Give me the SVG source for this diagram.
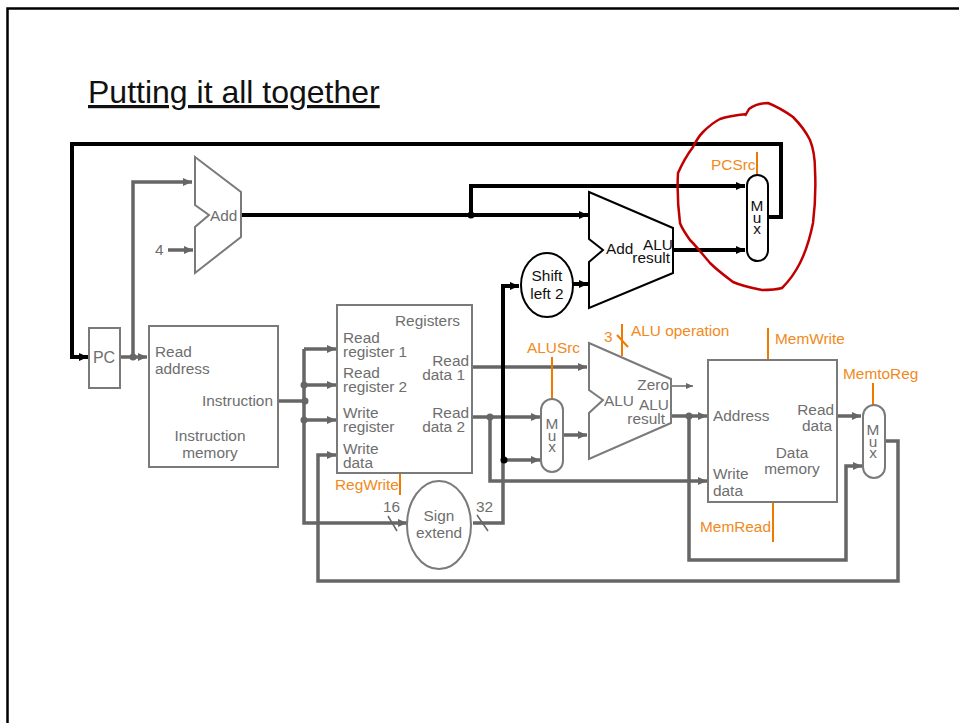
<svg xmlns="http://www.w3.org/2000/svg" width="959" height="723" viewBox="0 0 959 723">
<defs>
<marker id="ag" markerUnits="userSpaceOnUse" markerWidth="10" markerHeight="10" refX="9" refY="4" orient="auto"><path d="M0 0L9 4L0 8z" fill="#666"/></marker>
<marker id="ab" markerUnits="userSpaceOnUse" markerWidth="10" markerHeight="10" refX="9" refY="4" orient="auto"><path d="M0 0L9 4L0 8z" fill="#000"/></marker>
<marker id="as" markerUnits="userSpaceOnUse" markerWidth="8" markerHeight="8" refX="7" refY="3" orient="auto"><path d="M0 0L7 3L0 6z" fill="#666"/></marker>
</defs>
<style>
text{font-family:"Liberation Sans",Arial,sans-serif;font-size:15.400px;fill:#6e6e6e}
.k{fill:#111}.o{fill:#f08a1c}.m{text-anchor:middle}.e{text-anchor:end}
.s{fill:#fff;stroke:#7a7a7a;stroke-width:2}.sk{fill:#fff;stroke:#000;stroke-width:2}
.g{fill:none;stroke:#666;stroke-width:3.500}.gt{fill:none;stroke:#666;stroke-width:1.500}
.b{fill:none;stroke:#000;stroke-width:4}
.c{fill:none;stroke:#f07a00;stroke-width:2}
</style>
<rect width="959" height="723" fill="#fff"/>
<path d="M7.500 723V8.500H959" fill="none" stroke="#000" stroke-width="2.500"/>
<text x="88" y="103" style="font-size:32px;fill:#111" text-decoration="underline">Putting it all together</text>
<g id="connectors">
<path class="g" d="M119 357H133V182H192" marker-end="url(#ag)"/>
<path class="g" d="M133 357H147" marker-end="url(#ag)"/>
<path class="g" d="M168 250H193" marker-end="url(#ag)"/>
<path class="b" d="M241 215H588" marker-end="url(#ab)"/>
<path class="b" d="M471 215V186H745" marker-end="url(#ab)"/>
<path class="b" d="M672 250H745" marker-end="url(#ab)"/>
<path class="b" d="M767 217H781V144H72V357H88" marker-end="url(#ab)"/>
<path class="g" d="M277 401H304"/>
<path class="g" d="M304 349H336" marker-end="url(#ag)"/>
<path class="g" d="M304 349V523H407" marker-end="url(#ag)"/>
<path class="g" d="M304 385H336" marker-end="url(#ag)"/>
<path class="g" d="M304 420H336" marker-end="url(#ag)"/>
<path class="g" d="M473 367H587" marker-end="url(#ag)"/>
<path class="g" d="M473 417H540" marker-end="url(#ag)"/>
<path class="g" d="M490 417V481H707" marker-end="url(#ag)"/>
<path class="g" d="M473 523H503V460H540" marker-end="url(#ag)"/>
<path class="b" d="M503 460V286H519" marker-end="url(#ab)"/>
<path class="b" d="M572 284H588" marker-end="url(#ab)"/>
<path class="g" d="M563 435H587" marker-end="url(#ag)"/>
<path class="gt" d="M671 386H693" marker-end="url(#as)"/>
<path class="g" d="M671 416H707" marker-end="url(#ag)"/>
<path class="g" d="M689 416V560H846V466H862" marker-end="url(#ag)"/>
<path class="g" d="M838 416H861" marker-end="url(#ag)"/>
<path class="g" d="M885 441H898V581H318V455H336" marker-end="url(#ag)"/>
<path class="gt" d="M388 516L397 531M477 515L488 531"/>
<circle cx="133" cy="357" r="3.500" fill="#666"/>
<circle cx="471" cy="215" r="3.500" fill="#000"/>
<circle cx="304" cy="385" r="3.500" fill="#666"/>
<circle cx="305" cy="401" r="3.500" fill="#666"/>
<circle cx="304" cy="420" r="3.500" fill="#666"/>
<circle cx="490" cy="417" r="3.500" fill="#666"/>
<circle cx="504" cy="460" r="3.500" fill="#000"/>
<circle cx="689" cy="416" r="3.500" fill="#666"/>
<path class="c" d="M552 357V399M622 324V356M617 335L628 347M768 328V360M773 503V542M873 383V405M400 473V495M757 152V176"/>
</g>
<g id="pc"><rect class="s" x="89" y="328" width="31" height="60"/><text class="m" x="104" y="363" style="font-size:16px">PC</text></g>
<g id="add1"><path class="s" d="M195 157L241 192V237L195 273V227L209 215L195 205Z"/><text x="210" y="221">Add</text></g>
<text id="four" x="155" y="255">4</text>
<g id="imem"><rect class="s" x="149" y="326" width="129" height="141"/><text x="155" y="357">Read</text><text x="155" y="374">address</text><text class="e" x="273" y="406">Instruction</text><text class="m" x="210" y="441">Instruction</text><text class="m" x="210" y="458">memory</text></g>
<g id="registers"><rect class="s" x="337" y="305" width="135" height="168"/><text x="395" y="326">Registers</text>
<text x="343" y="343">Read<tspan x="343" dy="14">register 1</tspan></text>
<text x="343" y="378">Read<tspan x="343" dy="13.500">register 2</tspan></text>
<text x="343" y="418">Write<tspan x="343" dy="14">register</tspan></text>
<text x="343" y="454">Write<tspan x="343" dy="13.500">data</tspan></text>
<text class="e" x="469" y="366">Read<tspan x="465" dy="14">data 1</tspan></text>
<text class="e" x="469" y="418">Read<tspan x="465" dy="14">data 2</tspan></text></g>
<g id="sign"><ellipse class="s" cx="439" cy="525" rx="32" ry="44"/><text class="m" x="439" y="521">Sign</text><text class="m" x="439" y="538">extend</text></g>
<text x="383" y="512">16</text><text x="476" y="512">32</text>
<g id="shift"><ellipse class="sk" cx="547" cy="285" rx="26" ry="32"/><text class="m k" x="547" y="281">Shift</text><text class="m k" x="547" y="299">left 2</text></g>
<g id="add2"><path class="sk" d="M589 192L673 228V273L589 308V262L603 250L589 239Z"/><text class="k" x="606" y="254">Add</text><text class="k e" x="673" y="250">ALU<tspan x="670" dy="13">result</tspan></text></g>
<g id="pcmux"><rect class="sk" x="747" y="175" width="21" height="86" rx="10.500"/><text class="m k" x="757" y="211">M<tspan x="757" dy="11.500">u</tspan><tspan x="757" dy="11.500">x</tspan></text></g>
<g id="alu"><path class="s" d="M589 343L671 379V423L589 459V413L603 400L589 390Z"/><text x="604" y="406">ALU</text><text class="e" x="669" y="390">Zero</text><text class="e" x="669" y="410">ALU<tspan x="665" dy="14">result</tspan></text></g>
<g id="alumux"><rect class="s" x="541" y="399" width="22" height="73" rx="11"/><text class="m" x="552" y="429">M<tspan x="552" dy="11.500">u</tspan><tspan x="552" dy="11.500">x</tspan></text></g>
<g id="dmem"><rect class="s" x="708" y="360" width="129" height="142"/><text x="713" y="421">Address</text><text class="e" x="834" y="415">Read</text><text class="e" x="832" y="431">data</text><text class="m" x="792" y="458">Data</text><text class="m" x="792" y="474">memory</text><text x="713" y="479">Write</text><text x="713" y="496">data</text></g>
<g id="memmux"><rect class="s" x="863" y="405" width="22" height="73" rx="11"/><text class="m" x="873" y="435">M<tspan x="873" dy="11.500">u</tspan><tspan x="873" dy="11.500">x</tspan></text></g>
<g id="labels"><text class="o" x="711" y="170">PCSrc</text><text class="o" x="631" y="336">ALU operation</text><text class="o" x="604" y="342">3</text><text class="o" x="527" y="353">ALUSrc</text><text class="o" x="335" y="490">RegWrite</text><text class="o" x="775" y="344">MemWrite</text><text class="o" x="843" y="379">MemtoReg</text><text class="o" x="700" y="532">MemRead</text></g>
<path id="annotation" fill="none" stroke="#c00000" stroke-width="2.500" stroke-linejoin="round" d="M745 116L749 109C754 105 762 103 768 103C778 107 786 112 793 117C800 124 806 132 810 140C814 150 815 160 815 170C816 190 815 207 813 223C810 238 806 251 800 263C795 273 789 281 782 288C775 290 768 290 762 290C752 288 742 286 733 282C725 276 717 270 710 263C703 255 697 247 690 240C686 234 682 229 680 223C678 207 677 190 678 173C682 164 687 155 693 147C696 141 699 136 703 132C708 127 714 122 720 119C728 116 737 115 747 114"/>
</svg>
